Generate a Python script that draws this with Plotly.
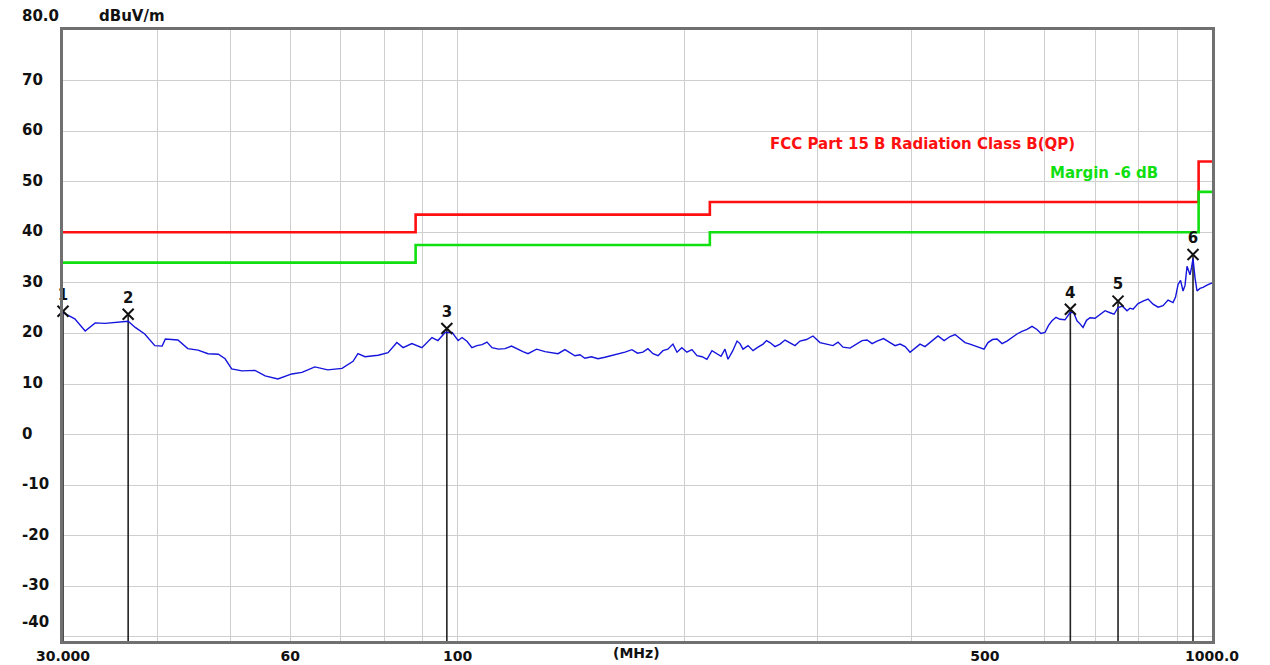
import numpy as np
import plotly.graph_objects as go

freq_mhz = [
    30.0, 31.1, 32.1, 33.1, 34.1, 35.9, 36.6, 37.4, 38.5, 39.7,
    40.6, 41.0, 42.6, 43.9, 45.3, 46.7, 48.2, 49.2, 50.2, 51.8,
    53.9, 55.6, 57.8, 60.3, 62.2, 64.7, 67.3, 70.3, 72.7, 73.8,
    75.4, 78.5, 80.9, 83.1, 84.7, 87.0, 89.7, 92.5, 94.2, 96.3,
    98.4, 100.2, 101.4, 103.0, 104.5, 106.1, 107.8, 109.4, 111.1, 113.3,
    115.6, 117.9, 120.3, 122.1, 124.0, 127.3, 130.6, 133.2, 135.9, 138.8,
    141.0, 143.1, 145.3, 147.5, 150.5, 153.5, 156.8, 160.2, 163.4, 166.7,
    170.3, 173.2, 176.1, 178.8, 181.6, 184.4, 187.2, 190.0, 193.0, 195.4,
    198.3, 201.4, 204.5, 207.7, 211.0, 214.1, 217.4, 220.8, 223.5, 226.2,
    228.3, 231.5, 234.7, 236.8, 239.0, 242.7, 246.4, 250.2, 254.1, 256.8,
    259.5, 263.5, 267.6, 271.7, 275.9, 280.1, 284.4, 290.1, 295.9, 299.1,
    302.3, 308.4, 314.5, 319.4, 324.3, 331.3, 338.4, 343.7, 349.0, 354.4,
    359.8, 367.0, 374.4, 380.2, 386.0, 392.0, 397.9, 404.0, 410.2, 416.5,
    422.9, 428.1, 433.4, 441.5, 449.6, 456.5, 463.5, 470.6, 477.8, 485.1,
    492.6, 498.7, 504.8, 511.8, 518.9, 526.9, 534.9, 543.2, 551.5, 560.0,
    568.6, 577.4, 586.2, 593.4, 600.7, 607.2, 613.7, 621.2, 628.8, 638.5,
    648.3, 655.3, 662.3, 668.4, 674.6, 681.9, 689.2, 699.8, 710.5, 721.5,
    732.6, 741.6, 750.7, 761.0, 771.5, 778.7, 785.9, 798.0, 810.2, 822.7,
    835.4, 848.2, 861.2, 874.5, 887.9, 894.7, 901.6, 908.5, 915.4, 921.0,
    926.6, 935.1, 939.4, 943.7, 949.5, 955.3, 964.0, 972.9, 986.3, 1000.0,
]
level_dbuv = [
    24.1, 22.9, 20.5, 22.1, 22.0, 22.3, 22.4, 21.2, 19.9, 17.6,
    17.5, 18.9, 18.7, 17.0, 16.7, 16.0, 15.9, 15.0, 13.0, 12.6,
    12.7, 11.6, 11.0, 12.0, 12.3, 13.4, 12.8, 13.1, 14.5, 16.0,
    15.4, 15.7, 16.2, 18.2, 17.2, 18.0, 17.2, 19.2, 18.6, 20.2,
    20.2, 18.6, 19.2, 18.4, 17.2, 17.6, 17.8, 18.3, 17.2, 16.9,
    17.0, 17.5, 16.8, 16.4, 16.0, 16.9, 16.4, 16.2, 16.0, 16.8,
    16.2, 15.6, 15.8, 15.1, 15.4, 15.0, 15.3, 15.6, 16.0, 16.3,
    16.8, 16.1, 16.3, 17.0, 16.0, 15.6, 16.6, 16.9, 17.9, 16.3,
    17.2, 16.3, 16.8, 15.6, 15.4, 14.9, 16.6, 16.0, 15.5, 16.9,
    14.9, 16.5, 18.5, 18.0, 16.9, 17.6, 16.6, 17.3, 17.9, 18.6,
    18.2, 17.4, 17.9, 18.7, 18.2, 17.6, 18.5, 18.8, 19.5, 18.9,
    18.2, 17.9, 17.6, 18.3, 17.3, 17.1, 17.9, 18.6, 18.7, 18.0,
    18.5, 19.0, 18.2, 17.6, 17.9, 17.4, 16.3, 17.2, 17.9, 17.4,
    18.2, 19.0, 19.5, 18.6, 19.4, 19.8, 18.9, 18.2, 17.9, 17.6,
    17.2, 16.9, 18.2, 18.8, 18.9, 18.0, 18.5, 19.2, 19.9, 20.4,
    20.8, 21.4, 20.8, 20.0, 20.2, 21.6, 22.5, 23.2, 22.8, 22.7,
    24.1, 24.2, 22.5, 21.9, 21.2, 22.6, 23.1, 23.0, 23.7, 24.5,
    24.1, 23.8, 25.1, 25.4, 24.5, 25.0, 24.8, 25.9, 26.4, 26.8,
    25.8, 25.2, 25.5, 26.6, 26.1, 27.2, 29.7, 30.5, 28.4, 29.5,
    33.3, 31.6, 33.0, 34.8, 31.0, 28.4, 28.9, 29.1, 29.6, 30.0,
]

# FCC Part 15 B class B (QP) limit steps
limit_freq = [30, 88, 216, 960, 1000]
limit_level = [40.0, 43.5, 46.0, 54.0, 54.0]
margin_db = 6.0

# Marker points
marker_ids = ["1", "2", "3", "4", "5", "6"]
marker_freq = [30.0, 36.6, 96.8, 649.0, 750.7, 943.7]
marker_level = [24.4, 23.8, 21.0, 24.8, 26.4, 35.6]

y_ticks = [80, 70, 60, 50, 40, 30, 20, 10, 0, -10, -20, -30, -40]
y_labels = ["80.0", "70", "60", "50", "40", "30", "20", "10", "0", "-10", "-20", "-30", "-40"]
x_grid = [30, 40, 50, 60, 70, 80, 90, 100, 200, 300, 400, 500, 600, 700, 800, 900, 1000]
x_labels = {30: "30.000", 60: "60", 100: "100", 500: "500", 1000: "1000.0"}

Y_MIN, Y_MAX = -40.8, 80.0
FONT = "DejaVu Sans"
INK = "#111111"

fig = go.Figure()

# limit and margin lines
fig.add_trace(go.Scatter(
    x=limit_freq, y=limit_level, mode="lines", line_shape="hv",
    line=dict(color="#ff1010", width=2.6), hoverinfo="skip"))
fig.add_trace(go.Scatter(
    x=limit_freq, y=[v - margin_db for v in limit_level], mode="lines", line_shape="hv",
    line=dict(color="#10e010", width=2.6), hoverinfo="skip"))

# marker drop lines
drop_x, drop_y = [], []
for f, lv in zip(marker_freq, marker_level):
    drop_x += [f, f, None]
    drop_y += [lv, Y_MIN, None]
fig.add_trace(go.Scatter(x=drop_x, y=drop_y, mode="lines",
                         line=dict(color="#222222", width=1.6), hoverinfo="skip"))

# emission trace
fig.add_trace(go.Scatter(x=freq_mhz, y=level_dbuv, mode="lines",
                         line=dict(color="#1414dc", width=1.4)))

# markers
fig.add_trace(go.Scatter(
    x=marker_freq, y=marker_level, mode="markers+text", text=marker_ids,
    textposition="top center", cliponaxis=False,
    textfont=dict(family=FONT, size=15, color=INK, weight="bold"),
    marker=dict(symbol="x-thin", size=11, line=dict(color=INK, width=2))))

# y labels, left aligned as in the analyser printout
for v, lab in zip(y_ticks, y_labels):
    shift = 14 if v == 80 else (15 if v == -40 else 1)
    fig.add_annotation(xref="paper", yref="y", x=0, y=v, xshift=-43, yshift=shift,
                       xanchor="left", yanchor="middle", text=lab, showarrow=False,
                       font=dict(family=FONT, size=15, color=INK, weight="bold"))

fig.add_annotation(xref="paper", yref="paper", x=0.0296, y=1, yshift=14,
                   xanchor="left", yanchor="middle", text="dBuV/m", showarrow=False,
                   font=dict(family=FONT, size=15, color=INK, weight="bold"))
fig.add_annotation(xref="paper", yref="paper", x=0.4987, y=0, yshift=-12,
                   xanchor="center", yanchor="middle", text="(MHz)", showarrow=False,
                   font=dict(family=FONT, size=14, color=INK, weight="bold"))

fig.add_annotation(xref="paper", yref="y", x=0.6136, y=57.4, xanchor="left", yanchor="middle",
                   text="FCC Part 15 B Radiation Class B(QP)", showarrow=False,
                   font=dict(family=FONT, size=15, color="#ff1010", weight="bold"))
fig.add_annotation(xref="paper", yref="y", x=0.857, y=51.7, xanchor="left", yanchor="middle",
                   text="Margin -6 dB", showarrow=False,
                   font=dict(family=FONT, size=15, color="#10e010", weight="bold"))

fig.update_xaxes(
    type="log", range=[np.log10(30), np.log10(1000)], automargin=False,
    tickvals=x_grid, ticktext=[x_labels.get(v, "") for v in x_grid],
    tickangle=0, ticks="", ticklen=0,
    tickfont=dict(family=FONT, size=14, color=INK, weight="bold"),
    showgrid=True, gridcolor="#cfcfcf", gridwidth=1,
    showline=True, linecolor="#707070", linewidth=3, mirror=True, zeroline=False)
fig.update_yaxes(
    range=[Y_MIN, Y_MAX], tickvals=y_ticks, showticklabels=False, ticks="",
    automargin=False,
    showgrid=True, gridcolor="#cfcfcf", gridwidth=1,
    showline=True, linecolor="#707070", linewidth=3, mirror=True, zeroline=False)

# page body has an 8px offset, so the figure is trimmed to fit the window with the frame in place
fig.update_layout(
    width=1262, height=657,
    margin=dict(l=55, r=58, t=22, b=24),
    showlegend=False,
    plot_bgcolor="white", paper_bgcolor="white",
    hovermode="closest")

fig.write_html("out.html")
